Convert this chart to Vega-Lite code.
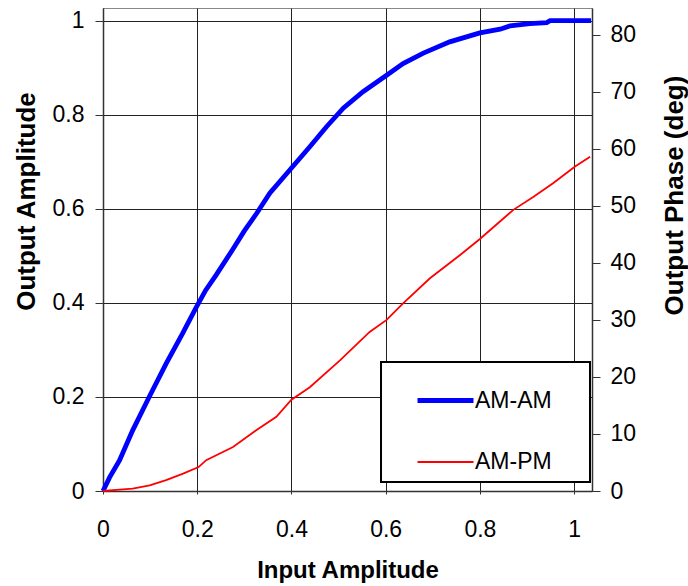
{
  "$schema": "https://vega.github.io/schema/vega-lite/v6.json",
  "width": 489,
  "height": 483,
  "autosize": {"type": "none"},
  "padding": {"left": 103, "top": 8, "right": 96, "bottom": 95},
  "background": "white",
  "config": {
    "font": "Liberation Sans",
    "view": {"stroke": "#888888", "strokeWidth": 1},
    "axis": {
      "labelFont": "Liberation Sans",
      "labelFontSize": 23,
      "labelColor": "#000000",
      "titleFont": "Liberation Sans",
      "titleFontSize": 24,
      "titleFontWeight": "bold",
      "titleColor": "#000000",
      "domainColor": "#333333",
      "domainWidth": 1.5,
      "tickColor": "#333333",
      "gridColor": "#222222",
      "gridWidth": 1
    },
    "legend": {
      "orient": "none",
      "legendX": 278,
      "legendY": 354,
      "symbolType": "stroke",
      "symbolSize": 3136,
      "symbolOffset": 26,
      "padding": 8,
      "rowPadding": 20,
      "labelFont": "Liberation Sans",
      "labelFontSize": 23,
      "labelColor": "#000000",
      "labelOffset": -1,
      "strokeColor": "#000000",
      "fillColor": "#ffffff"
    }
  },
  "data": {
    "values": [
      {"input": 0, "output": 0, "series": "AM-AM"},
      {"input": 0.014, "output": 0.029, "series": "AM-AM"},
      {"input": 0.035, "output": 0.065, "series": "AM-AM"},
      {"input": 0.063, "output": 0.129, "series": "AM-AM"},
      {"input": 0.098, "output": 0.2, "series": "AM-AM"},
      {"input": 0.134, "output": 0.271, "series": "AM-AM"},
      {"input": 0.169, "output": 0.335, "series": "AM-AM"},
      {"input": 0.197, "output": 0.389, "series": "AM-AM"},
      {"input": 0.218, "output": 0.427, "series": "AM-AM"},
      {"input": 0.24, "output": 0.459, "series": "AM-AM"},
      {"input": 0.275, "output": 0.513, "series": "AM-AM"},
      {"input": 0.3, "output": 0.553, "series": "AM-AM"},
      {"input": 0.326, "output": 0.59, "series": "AM-AM"},
      {"input": 0.354, "output": 0.633, "series": "AM-AM"},
      {"input": 0.396, "output": 0.682, "series": "AM-AM"},
      {"input": 0.439, "output": 0.732, "series": "AM-AM"},
      {"input": 0.474, "output": 0.774, "series": "AM-AM"},
      {"input": 0.51, "output": 0.814, "series": "AM-AM"},
      {"input": 0.552, "output": 0.849, "series": "AM-AM"},
      {"input": 0.602, "output": 0.884, "series": "AM-AM"},
      {"input": 0.637, "output": 0.909, "series": "AM-AM"},
      {"input": 0.68, "output": 0.931, "series": "AM-AM"},
      {"input": 0.736, "output": 0.955, "series": "AM-AM"},
      {"input": 0.8, "output": 0.974, "series": "AM-AM"},
      {"input": 0.843, "output": 0.982, "series": "AM-AM"},
      {"input": 0.864, "output": 0.989, "series": "AM-AM"},
      {"input": 0.906, "output": 0.994, "series": "AM-AM"},
      {"input": 0.942, "output": 0.996, "series": "AM-AM"},
      {"input": 0.949, "output": 1.0, "series": "AM-AM"},
      {"input": 1.0, "output": 1.0, "series": "AM-AM"},
      {"input": 1.036, "output": 1.0, "series": "AM-AM"},
      {"input": 0, "output": 0, "series": "AM-PM"},
      {"input": 0.035, "output": 0.25, "series": "AM-PM"},
      {"input": 0.063, "output": 0.4, "series": "AM-PM"},
      {"input": 0.099, "output": 1.0, "series": "AM-PM"},
      {"input": 0.134, "output": 1.9, "series": "AM-PM"},
      {"input": 0.17, "output": 3.05, "series": "AM-PM"},
      {"input": 0.203, "output": 4.2, "series": "AM-PM"},
      {"input": 0.219, "output": 5.4, "series": "AM-PM"},
      {"input": 0.276, "output": 7.7, "series": "AM-PM"},
      {"input": 0.326, "output": 10.7, "series": "AM-PM"},
      {"input": 0.368, "output": 13.0, "series": "AM-PM"},
      {"input": 0.4, "output": 16.0, "series": "AM-PM"},
      {"input": 0.439, "output": 18.2, "series": "AM-PM"},
      {"input": 0.503, "output": 22.9, "series": "AM-PM"},
      {"input": 0.566, "output": 27.9, "series": "AM-PM"},
      {"input": 0.602, "output": 30.0, "series": "AM-PM"},
      {"input": 0.637, "output": 32.9, "series": "AM-PM"},
      {"input": 0.694, "output": 37.3, "series": "AM-PM"},
      {"input": 0.758, "output": 41.4, "series": "AM-PM"},
      {"input": 0.8, "output": 44.2, "series": "AM-PM"},
      {"input": 0.871, "output": 49.3, "series": "AM-PM"},
      {"input": 0.914, "output": 51.6, "series": "AM-PM"},
      {"input": 0.956, "output": 54.0, "series": "AM-PM"},
      {"input": 1.002, "output": 56.9, "series": "AM-PM"},
      {"input": 1.034, "output": 58.6, "series": "AM-PM"}
    ]
  },
  "encoding": {
    "x": {
      "field": "input",
      "type": "quantitative",
      "scale": {"domain": [0, 1.038], "nice": false},
      "axis": {
        "values": [0, 0.2, 0.4, 0.6, 0.8, 1],
        "format": "~g",
        "title": "Input Amplitude",
        "tickSize": 3,
        "labelPadding": 24,
        "labelFlush": false,
        "titleY": 86.5,
        "titleBaseline": "alphabetic",
        "grid": true
      }
    },
    "color": {
      "field": "series",
      "type": "nominal",
      "scale": {"domain": ["AM-AM", "AM-PM"], "range": ["#0000FF", "#FF0000"]},
      "legend": {
        "title": null,
        "labelExpr": "datum.label + '\u00a0\u00a0\u00a0\u00a0\u2009\u200b'",
        "encode": {"legend": {"update": {"strokeWidth": {"value": 2}}}}
      }
    },
    "strokeWidth": {
      "field": "series",
      "type": "nominal",
      "scale": {"domain": ["AM-AM", "AM-PM"], "range": [4.8, 1.8]},
      "legend": {
        "title": null,
        "labelExpr": "datum.label + '\u00a0\u00a0\u00a0\u00a0\u2009\u200b'",
        "encode": {"legend": {"update": {"strokeWidth": {"value": 2}}}}
      }
    }
  },
  "layer": [
    {
      "transform": [{"filter": "datum.series === 'AM-AM'"}],
      "mark": {"type": "line"},
      "encoding": {
        "y": {
          "field": "output",
          "type": "quantitative",
          "scale": {"domain": [0, 1.027], "nice": false},
          "axis": {
            "values": [0, 0.2, 0.4, 0.6, 0.8, 1],
            "format": "~g",
            "title": "Output Amplitude",
            "titleFontSize": 26,
            "tickSize": 8,
            "labelPadding": 11,
            "titleX": -77,
            "titleY": 193,
            "titleAngle": 270,
            "titleAlign": "center",
            "titleBaseline": "middle",
            "grid": true
          }
        }
      }
    },
    {
      "transform": [{"filter": "datum.series === 'AM-PM'"}],
      "mark": {"type": "line"},
      "encoding": {
        "y": {
          "field": "output",
          "type": "quantitative",
          "scale": {"domain": [0, 84.7], "nice": false},
          "axis": {
            "orient": "right",
            "values": [0, 10, 20, 30, 40, 50, 60, 70, 80],
            "title": "Output Phase (deg)",
            "titleFontSize": 26,
            "tickSize": 8,
            "labelPadding": 10,
            "titleX": 82,
            "titleY": 187,
            "titleAngle": 270,
            "titleAlign": "center",
            "titleBaseline": "middle",
            "grid": false
          }
        }
      }
    }
  ],
  "resolve": {"scale": {"y": "independent"}}
}
